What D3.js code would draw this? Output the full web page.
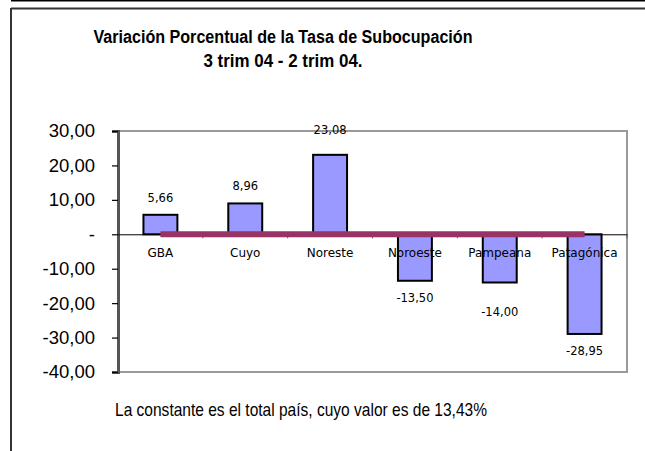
<!DOCTYPE html>
<html><head><meta charset="utf-8">
<script src="https://cdn.jsdelivr.net/npm/d3@7"></script>
<style>html,body{margin:0;padding:0;background:#fff;}svg{display:block;}</style>
</head><body>
<svg id="c" width="645" height="451"></svg>
<script>
const categories = ["GBA","Cuyo","Noreste","Noroeste","Pampeana","Patagónica"];
const values = [5.66, 8.96, 23.08, -13.50, -14.00, -28.95];
const constante = [0, 0, 0, 0, 0, 0];
const yTicks = [30, 20, 10, 0, -10, -20, -30, -40];
const titleLines = ["Variación Porcentual de la Tasa de Subocupación", "3 trim 04 - 2 trim 04."];
const footer = "La constante es el total país, cuyo valor es de 13,43%";

const svg = d3.select("#c");
const fmt = v => v === 0 ? "-" : d3.format(".2f")(v).replace(".", ",").replace("\u2212", "-");

// outer frame
svg.append("line").attr("x1",11).attr("x2",645).attr("y1",0.5).attr("y2",0.5).attr("stroke","#000").attr("stroke-width",2);
svg.append("line").attr("x1",11).attr("x2",645).attr("y1",8.5).attr("y2",8.5).attr("stroke","#333").attr("stroke-width",2);
svg.append("line").attr("x1",11).attr("x2",11).attr("y1",8).attr("y2",451).attr("stroke","#333").attr("stroke-width",2);

const L = 118, R = 627, T = 131, B = 372;
const x = d3.scaleBand().domain(categories).range([L, R]).paddingInner(0).paddingOuter(0);
const y = d3.scaleLinear().domain([-40, 30]).range([B, T]);
const bw = x.bandwidth() * 0.4;

// plot area border
svg.append("rect").attr("x",L).attr("y",T).attr("width",R-L).attr("height",B-T)
  .attr("fill","none").attr("stroke","#999").attr("stroke-width",2);

// title
const tw = [379, 159];
titleLines.forEach((t,i)=>{
  svg.append("text").attr("x",283).attr("y",[43,67][i]).attr("text-anchor","middle")
    .attr("font-family","Liberation Sans, Arial, sans-serif").attr("font-weight","bold").attr("font-size",18)
    .attr("textLength",tw[i]).attr("lengthAdjust","spacingAndGlyphs").attr("fill","#000").text(t);
});

// y axis
const yAxis = d3.axisLeft(y).tickValues(yTicks).tickSize(6).tickPadding(17).tickFormat(fmt);
const ga = svg.append("g").attr("transform",`translate(${L},0)`).call(yAxis);
ga.select(".domain").attr("stroke","#555").attr("stroke-width",3);
ga.selectAll(".tick line").attr("stroke","#000").attr("stroke-width",1.2);
ga.selectAll(".tick text").attr("font-family","Liberation Sans, Arial, sans-serif").attr("font-size",18.5).attr("fill","#000");

// bars
svg.append("g").selectAll("rect").data(values).join("rect")
  .attr("x",(d,i)=>x(categories[i]) + x.bandwidth()/2 - bw/2)
  .attr("y",d=>y(Math.max(0,d)))
  .attr("width",bw)
  .attr("height",d=>Math.abs(y(d)-y(0)))
  .attr("fill","#9999FF").attr("stroke","#000").attr("stroke-width",2);

// x axis at zero
const xAxis = d3.axisBottom(x).tickSize(0).tickFormat("");
const gx = svg.append("g").attr("transform",`translate(0,${y(0)})`).call(xAxis);
gx.select(".domain").attr("stroke","#000").attr("stroke-width",1);
gx.selectAll(".tick").remove();
const bounds = categories.map(c=>x(c)).concat([R]).slice(1);
gx.selectAll("line.bt").data(bounds).join("line").attr("class","bt")
  .attr("x1",d=>d).attr("x2",d=>d).attr("y1",0).attr("y2",4).attr("stroke","#555").attr("stroke-width",1);

// category labels
svg.append("g").selectAll("text").data(categories).join("text")
  .attr("x",d=>x(d)+x.bandwidth()/2).attr("y",y(0)+23).attr("text-anchor","middle")
  .attr("font-family","DejaVu Sans, Verdana, sans-serif").attr("font-size",12).attr("fill","#000").text(d=>d);

// constant line
const line = d3.line().x((d,i)=>x(categories[i])+x.bandwidth()/2).y(d=>y(d));
svg.append("path").datum(constante).attr("d",line).attr("fill","none").attr("stroke","#993366").attr("stroke-width",6);

// data labels
const nudge = {"Noreste": -8, "Pampeana": 13};
svg.append("g").selectAll("text").data(values).join("text")
  .attr("x",(d,i)=>x(categories[i])+x.bandwidth()/2)
  .attr("y",(d,i)=>(d>=0 ? y(d)-13 : y(d)+21) + (nudge[categories[i]]||0))
  .attr("text-anchor","middle").attr("font-family","DejaVu Sans, Verdana, sans-serif").attr("font-size",11.5)
  .attr("fill","#000").text(d=>fmt(d));

// footer
svg.append("text").attr("x",301).attr("y",416).attr("text-anchor","middle")
  .attr("font-family","Liberation Sans, Arial, sans-serif").attr("font-size",18.5)
  .attr("textLength",372).attr("lengthAdjust","spacingAndGlyphs").attr("fill","#000").text(footer);
</script>
</body></html>
